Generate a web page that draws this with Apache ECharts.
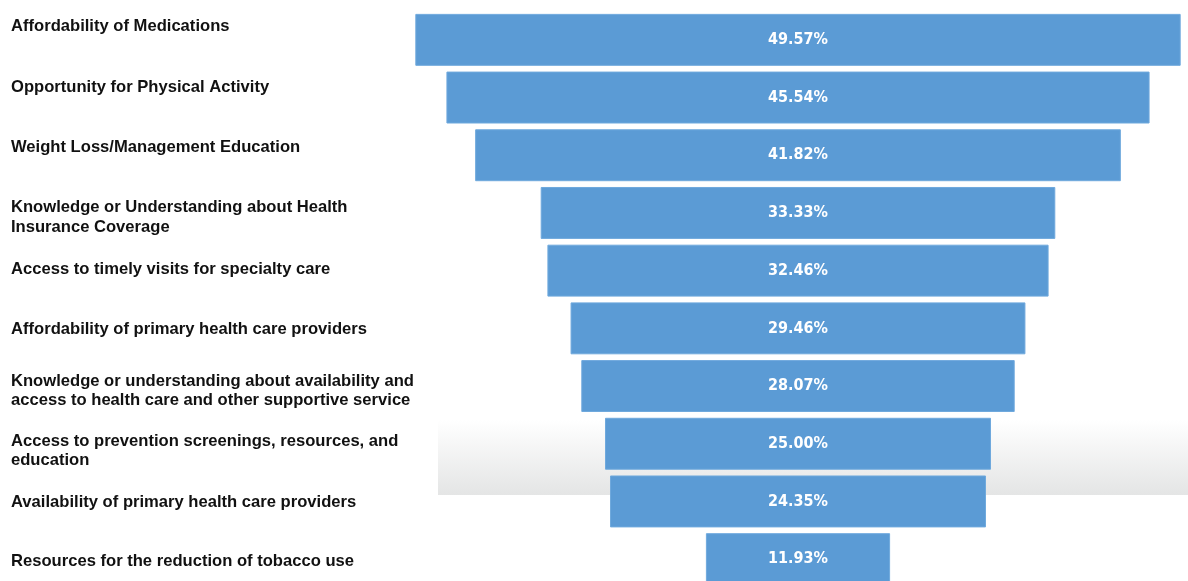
<!DOCTYPE html>
<html>
<head>
<meta charset="utf-8">
<script src="https://cdn.jsdelivr.net/npm/echarts@6/dist/echarts.min.js"></script>
<style>
html,body{margin:0;padding:0;background:#fff;}
#chart{width:1188px;height:581px;}
</style>
</head>
<body>
<div id="chart"></div>
<script>
const categories = [
  "Affordability of Medications",
  "Opportunity for Physical Activity",
  "Weight Loss/Management Education",
  "Knowledge or Understanding about Health\nInsurance Coverage",
  "Access to timely visits for specialty care",
  "Affordability of primary health care providers",
  "Knowledge or understanding about availability and\naccess to health care and other supportive service",
  "Access to prevention screenings, resources, and\neducation",
  "Availability of primary health care providers",
  "Resources for the reduction of tobacco use"
];
const values = [49.57, 45.54, 41.82, 33.33, 32.46, 29.46, 28.07, 25.00, 24.35, 11.93];

// layout-only: vertical nudge (px) of each left-hand label relative to its bar centre
const labelNudge = [-13, -10, -7.5, 4.5, -1.5, 1, 5, 7, 0.5, 2.5];

const SPAN = 50;
const GRID_LEFT = 412;
const LABEL_X = 11;

const offsetData = values.map((v, i) => ({
  value: (SPAN - v) / 2,
  label: {offset: [0, labelNudge[i]]}
}));

const chart = echarts.init(document.getElementById('chart'));
chart.setOption({
  animation: false,
  backgroundColor: '#ffffff',
  graphic: [{
    type: 'rect',
    z: -10,
    silent: true,
    shape: {x: 438, y: 420, width: 750, height: 75},
    style: {
      fill: new echarts.graphic.LinearGradient(0, 0, 0, 1, [
        {offset: 0, color: 'rgba(255,255,255,1)'},
        {offset: 1, color: 'rgba(228,229,229,1)'}
      ])
    }
  }],
  grid: {left: GRID_LEFT, width: 772, top: 11, height: 577, containLabel: false, outerBoundsMode: 'none'},
  xAxis: {
    type: 'value', min: 0, max: SPAN, show: false
  },
  yAxis: {
    type: 'category',
    inverse: true,
    data: categories,
    axisLine: {show: false},
    axisTick: {show: false},
    axisLabel: {show: false}
  },
  series: [
    {
      type: 'bar', stack: 'f', data: offsetData, silent: true,
      itemStyle: {color: 'transparent'},
      barCategoryGap: '10%',
      label: {
        show: true,
        position: [LABEL_X - GRID_LEFT, '50%'],
        align: 'left',
        verticalAlign: 'middle',
        color: '#111111',
        fontFamily: '"Liberation Sans", Arial, sans-serif',
        fontWeight: 'bold',
        fontSize: 16.6,
        lineHeight: 19.5,
        formatter: p => categories[p.dataIndex]
      }
    },
    {
      type: 'bar', stack: 'f', data: values,
      barCategoryGap: '10%',
      itemStyle: {color: '#5B9BD5', borderColor: '#6FA9DD', borderWidth: 1},
      label: {
        show: true, position: 'inside',
        color: '#ffffff',
        fontFamily: '"Liberation Sans Narrow", "DejaVu Sans Condensed", Arial, sans-serif',
        fontWeight: 'bold', fontSize: 16,
        formatter: p => p.value.toFixed(2) + '%'
      }
    }
  ]
});
</script>
</body>
</html>
